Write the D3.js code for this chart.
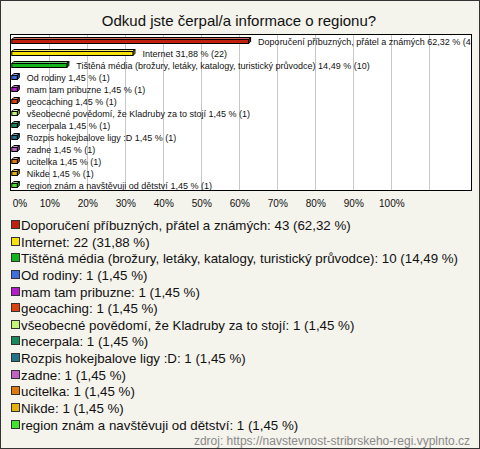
<!DOCTYPE html>
<html><head><meta charset="utf-8">
<script src="https://cdn.jsdelivr.net/npm/d3@7"></script>
<style>
html,body{margin:0;padding:0;background:#f4f3ec;}
svg{display:block;font-family:"Liberation Sans",Arial,sans-serif;}
</style></head>
<body>
<svg id="c" width="480" height="449"></svg>
<script>
const title = "Odkud jste čerpal/a informace o regionu?";
const categories = [
  "Doporučení příbuzných, přátel a známých",
  "Internet",
  "Tištěná média (brožury, letáky, katalogy, turistický průvodce)",
  "Od rodiny",
  "mam tam pribuzne",
  "geocaching",
  "všeobecné povědomí, že Kladruby za to stojí",
  "necerpala",
  "Rozpis hokejbalove ligy :D",
  "zadne",
  "ucitelka",
  "Nikde",
  "region znám a navštěvuji od dětství"
];
const counts = [43, 22, 10, 1, 1, 1, 1, 1, 1, 1, 1, 1, 1];
const percents = ["62,32", "31,88", "14,49", "1,45", "1,45", "1,45", "1,45", "1,45", "1,45", "1,45", "1,45", "1,45", "1,45"];
const colors = ["#c0210f", "#f5e20a", "#14b51c", "#3d6fe0", "#b41ccc", "#e0400e", "#c6f47a", "#168a5c", "#1f7489", "#c064c4", "#e07810", "#e6b012", "#46e030"];
const tickValues = [0, 0.1, 0.2, 0.3, 0.4, 0.5, 0.6, 0.7, 0.8, 0.9, 1.0];
const source = "zdroj: https://navstevnost-stribrskeho-regi.vyplnto.cz";

const svg = d3.select("#c");
const W = 480, H = 449;

svg.append("rect").attr("x", 0.5).attr("y", 0.5).attr("width", W - 1).attr("height", H - 1)
  .attr("fill", "#f4f3ec").attr("stroke", "#333").attr("stroke-width", 1);

svg.append("text").attr("x", 239).attr("y", 26).attr("text-anchor", "middle")
  .attr("font-size", 15).attr("fill", "#111").text(title);

const frame = {x: 10.5, y: 34.5, w: 461, h: 156};
const x = d3.scaleLinear().domain([0, 1]).range([11.3, 391.3]);
const y = d3.scaleBand().domain(d3.range(categories.length)).range([35, 191]);

svg.append("rect").attr("x", frame.x).attr("y", frame.y).attr("width", frame.w).attr("height", frame.h)
  .attr("fill", "#fff");

const grid = d3.range(1, 12).map(i => i / 10);
svg.append("g").selectAll("line").data(grid).join("line")
  .attr("x1", d => Math.round(x(d)) + 0.5).attr("x2", d => Math.round(x(d)) + 0.5)
  .attr("y1", frame.y).attr("y2", frame.y + frame.h)
  .attr("stroke", "#c8c8c8").attr("stroke-width", 1);

svg.append("clipPath").attr("id", "clip").append("rect")
  .attr("x", frame.x).attr("y", frame.y).attr("width", frame.w).attr("height", frame.h);

const plot = svg.append("g").attr("clip-path", "url(#clip)");
const vals = percents.map(p => parseFloat(p.replace(",", ".")) / 100);
const dep = 2;

const bars = plot.selectAll("g.bar").data(categories).join("g").attr("class", "bar");
bars.each(function(c, i) {
  const g = d3.select(this);
  const cy = y(i) + y.bandwidth() / 2;
  const x0 = x(0) + 0.5, x1 = x(vals[i]) + 0.5;
  const top = Math.round(cy) - 1.5, bot = Math.round(cy) + 2.5;
  const col = d3.color(colors[i]);
  const light = d3.interpolateRgb(colors[i], "#fff")(0.35);
  const dark = col.darker(0.8);
  g.append("path").attr("d", `M${x0},${top}L${x0 + dep},${top - dep}L${x1 + dep},${top - dep}L${x1},${top}Z`)
    .attr("fill", light).attr("stroke", "#000").attr("stroke-width", 1).attr("stroke-linejoin", "round");
  g.append("path").attr("d", `M${x1},${top}L${x1 + dep},${top - dep}L${x1 + dep},${bot - dep}L${x1},${bot}Z`)
    .attr("fill", dark).attr("stroke", "#000").attr("stroke-width", 1).attr("stroke-linejoin", "round");
  g.append("rect").attr("x", x0).attr("y", top).attr("width", x1 - x0).attr("height", bot - top)
    .attr("fill", colors[i]).attr("stroke", "#000").attr("stroke-width", 1);
  g.append("text").attr("x", x(vals[i]) + 10).attr("y", cy + 3.5)
    .attr("font-size", 9).attr("fill", "#111")
    .text(`${c} ${percents[i]} % (${counts[i]})`);
});

svg.append("rect").attr("x", frame.x).attr("y", frame.y).attr("width", frame.w).attr("height", frame.h)
  .attr("fill", "none").attr("stroke", "#000").attr("stroke-width", 1);

const axis = d3.axisBottom(x).tickValues(tickValues).tickFormat(d => Math.round(d * 100) + "%").tickSize(0).tickPadding(0);
const ag = svg.append("g").attr("transform", "translate(0,200)").call(axis);
ag.select(".domain").remove();
ag.selectAll("text").attr("font-size", 10).attr("font-family", "\"Liberation Sans\",Arial,sans-serif").attr("fill", "#111");
ag.selectAll(".tick").filter(d => d === 0).select("text").attr("text-anchor", "start").attr("x", 1);

const leg = svg.append("g");
const ly = d3.scaleLinear().domain([0, categories.length - 1]).range([225, 424.5]);
categories.forEach((c, i) => {
  const cy = ly(i);
  leg.append("rect").attr("x", 11.5).attr("y", Math.round(cy) - 4.5).attr("width", 8).attr("height", 8)
    .attr("fill", colors[i]).attr("stroke", "#333").attr("stroke-width", 1);
  leg.append("text").attr("x", 21).attr("y", cy + 5).attr("font-size", 13.3).attr("fill", "#111")
    .text(`${c}: ${counts[i]} (${percents[i]} %)`);
});

svg.append("text").attr("x", 470).attr("y", 445).attr("text-anchor", "end")
  .attr("font-size", 12).attr("fill", "#8a8a8a").text(source);
</script>
</body></html>
